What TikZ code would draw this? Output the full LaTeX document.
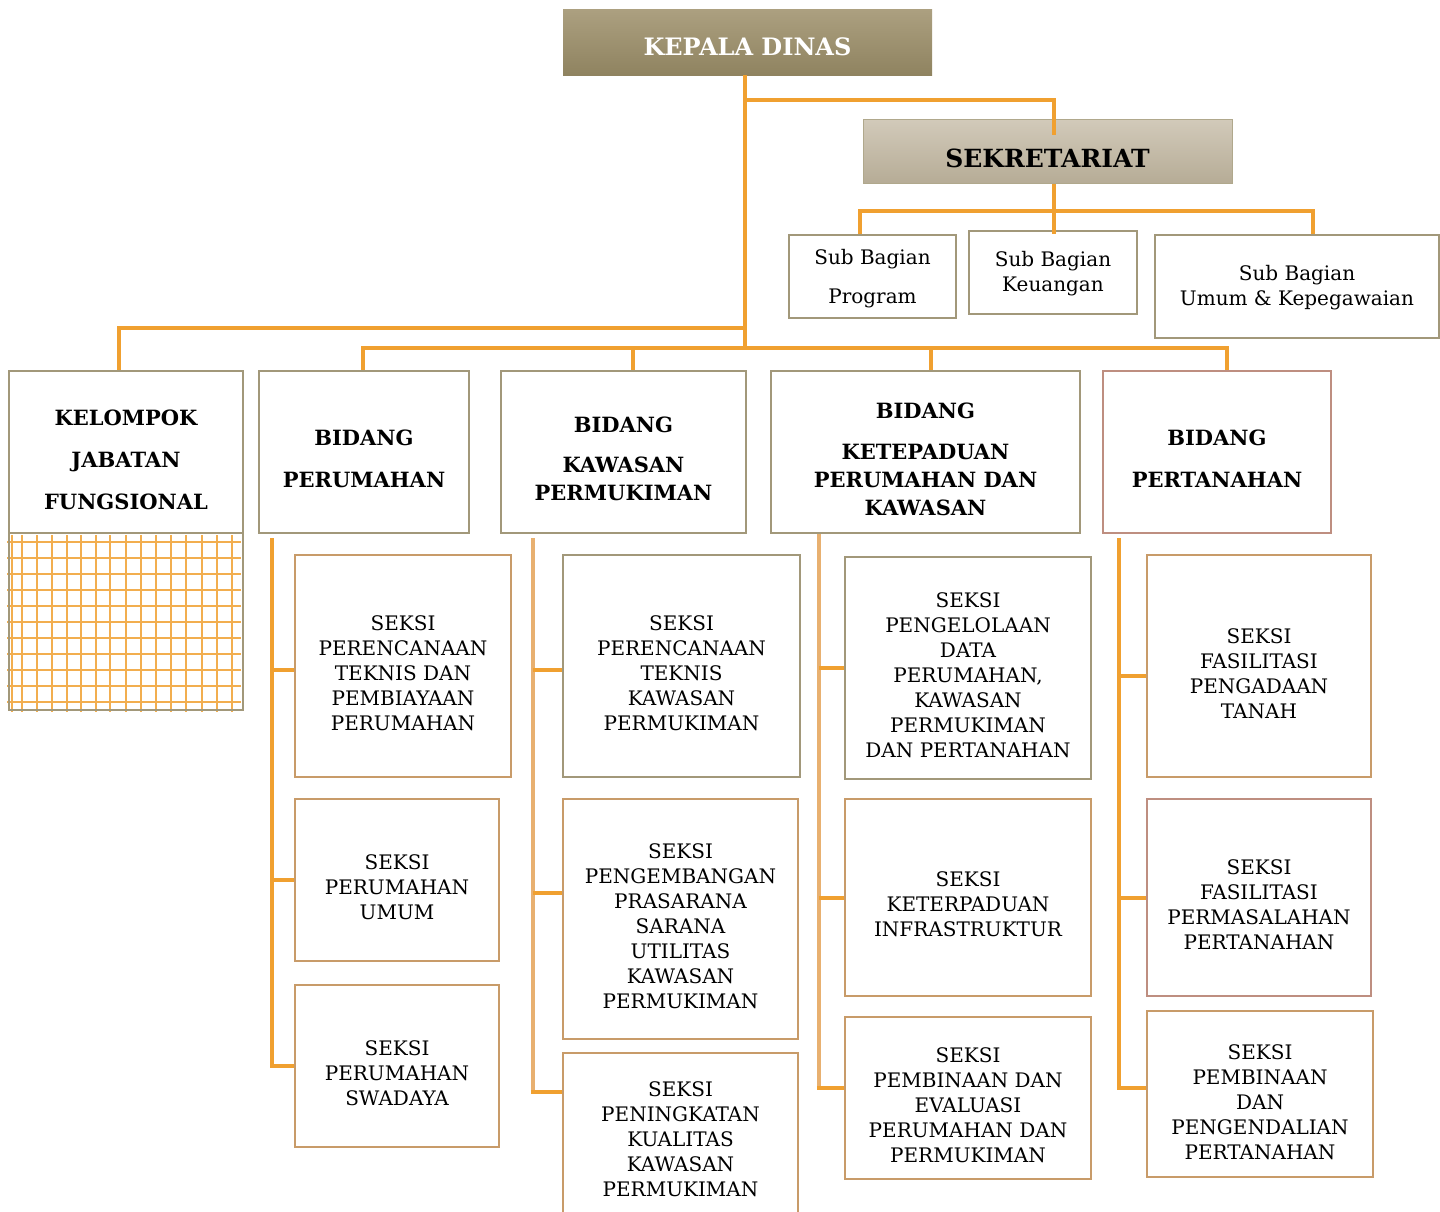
\documentclass[tikz,border=0pt]{standalone}
\usepackage{fontspec}
\setmainfont{DejaVu Serif}
\usetikzlibrary{calc}
\definecolor{orng}{RGB}{240,160,48}
\definecolor{lorng}{RGB}{232,176,112}
\definecolor{bgray}{RGB}{162,152,122}
\definecolor{btan}{RGB}{200,155,105}
\definecolor{bpink}{RGB}{190,142,128}
\definecolor{kdtop}{RGB}{172,160,128}
\definecolor{kdbot}{RGB}{143,131,96}
\definecolor{sektop}{RGB}{210,202,186}
\definecolor{sekbot}{RGB}{182,172,150}
\definecolor{sekline}{RGB}{176,168,140}
\newcommand{\orgbx}[6]{\node[#2, minimum width={#5-#3}, minimum height={#6-#4}] (#1) at ({(#3+#5)/2},{(#4+#6)/2}) {};}
\tikzset{
  orgframe/.style={draw=#1, line width=2.5pt, fill=white, inner sep=0pt},
  conn/.style={draw=orng, line width=4pt},
  lconn/.style={draw=lorng, line width=4pt},
  gridln/.style={draw=orng!85, line width=1.5pt},
  stxt/.style={align=center, font=\fontsize{20}{25}\selectfont, inner sep=0pt},
  btxt/.style={align=center, font=\bfseries\fontsize{21}{28}\selectfont, inner sep=0pt},
  subtxt/.style={align=center, font=\fontsize{20}{25}\selectfont, inner sep=0pt},
}
\begin{document}
\begin{tikzpicture}[x=1pt,y=-1pt]
\useasboundingbox (0,0) rectangle (1440,1211);
% top
\node[draw=none, top color=kdtop, bottom color=kdbot, minimum width=369, minimum height=66, inner sep=0pt] (kd) at (747.5,42) {};
\node[font=\bfseries\fontsize{24}{28}\selectfont, text=white, inner sep=0pt] (kdt) at ($(kd)+(0,5)$) {KEPALA DINAS};
\node[draw=sekline, line width=1pt, top color=sektop, bottom color=sekbot, minimum width=369, minimum height=64, inner sep=0pt] (sek) at (1047.5,151) {};
\node[font=\bfseries\fontsize{25}{29}\selectfont, inner sep=0pt] (sekt) at ($(sek)+(0,7)$) {SEKRETARIAT};
% sub bagian
\orgbx{sbp}{orgframe=bgray}{789}{235}{956}{318}
\orgbx{keu}{orgframe=bgray}{969}{231}{1137}{314}
\orgbx{sbu}{orgframe=bgray}{1155}{235}{1439}{338}
\node[subtxt] (sbpt) at ($(sbp)+(0,2)$) {Sub Bagian\\[14pt]Program};
\node[subtxt] (keut) at ($(keu)+(0,1)$) {Sub Bagian\\Keuangan};
\node[subtxt] (sbut) at ($(sbu)+(0,1)$) {Sub Bagian\\Umum \& Kepegawaian};
% bidang
\orgbx{kjf}{orgframe=bgray}{9}{371}{243}{533}
\orgbx{bp}{orgframe=bgray}{259}{371}{469}{533}
\orgbx{bk}{orgframe=bgray}{501}{371}{746}{533}
\orgbx{bkt}{orgframe=bgray}{771}{371}{1080}{533}
\orgbx{bpt}{orgframe=bpink}{1103}{371}{1331}{533}
\node[btxt] (kjft) at ($(kjf)+(0,7.5)$) {KELOMPOK\\[14pt]JABATAN\\[14pt]FUNGSIONAL};
\node[btxt] (bpx) at ($(bp)+(0,7)$) {BIDANG\\[14pt]PERUMAHAN};
\node[btxt] (bkx) at ($(bk)+(0,7)$) {BIDANG\\[12pt]KAWASAN\\PERMUKIMAN};
\node[btxt] (bktx) at ($(bkt)+(0,7)$) {BIDANG\\[13pt]KETEPADUAN\\PERUMAHAN DAN\\KAWASAN};
\node[btxt] (bptx) at ($(bpt)+(0,7)$) {BIDANG\\[14pt]PERTANAHAN};
% grid
\foreach \gx in {12,22,37,52,67,81,96,110,126,141,156,171,186,202,217,232}
  \draw[gridln] (\gx,535) -- (\gx,712);
\foreach \gy in {542,558,574,590,606,622,638,654,670,686,702}
  \draw[gridln] (7,\gy) -- (241,\gy);
\node[draw=bgray, line width=2.5pt, minimum width=234, minimum height=177, inner sep=0pt] (kjfg) at (126,621.5) {};
% seksi boxes
\orgbx{c1a}{orgframe=btan}{295}{555}{511}{777}
\orgbx{c1b}{orgframe=btan}{295}{799}{499}{961}
\orgbx{c1c}{orgframe=btan}{295}{985}{499}{1147}
\orgbx{c2a}{orgframe=bgray}{563}{555}{800}{777}
\orgbx{c2b}{orgframe=btan}{563}{799}{798}{1039}
\orgbx{c2c}{orgframe=btan}{563}{1053}{798}{1240}
\orgbx{c3a}{orgframe=bgray}{845}{557}{1091}{779}
\orgbx{c3b}{orgframe=btan}{845}{799}{1091}{996}
\orgbx{c3c}{orgframe=btan}{845}{1017}{1091}{1179}
\orgbx{c4a}{orgframe=btan}{1147}{555}{1371}{777}
\orgbx{c4b}{orgframe=bpink}{1147}{799}{1371}{996}
\orgbx{c4c}{orgframe=btan}{1147}{1011}{1373}{1177}
\node[stxt] (c1at) at ($(c1a)+(0,7)$) {SEKSI\\PERENCANAAN\\TEKNIS DAN\\PEMBIAYAAN\\PERUMAHAN};
\node[stxt] (c1bt) at ($(c1b)+(0,7)$) {SEKSI\\PERUMAHAN\\UMUM};
\node[stxt] (c1ct) at ($(c1c)+(0,7)$) {SEKSI\\PERUMAHAN\\SWADAYA};
\node[stxt] (c2at) at ($(c2a)+(0,7)$) {SEKSI\\PERENCANAAN\\TEKNIS\\KAWASAN\\PERMUKIMAN};
\node[stxt] (c2bt) at ($(c2b)+(0,7.5)$) {SEKSI\\PENGEMBANGAN\\PRASARANA\\SARANA\\UTILITAS\\KAWASAN\\PERMUKIMAN};
\node[stxt] (c2ct) at ($(c2c.north)+(0,87.5)$) {SEKSI\\PENINGKATAN\\KUALITAS\\KAWASAN\\PERMUKIMAN};
\node[stxt] (c3at) at ($(c3a)+(0,7)$) {SEKSI\\PENGELOLAAN\\DATA\\PERUMAHAN,\\KAWASAN\\PERMUKIMAN\\DAN PERTANAHAN};
\node[stxt] (c3bt) at ($(c3b)+(0,7)$) {SEKSI\\KETERPADUAN\\INFRASTRUKTUR};
\node[stxt] (c3ct) at ($(c3c)+(0,7.5)$) {SEKSI\\PEMBINAAN DAN\\EVALUASI\\PERUMAHAN DAN\\PERMUKIMAN};
\node[stxt] (c4at) at ($(c4a)+(0,7.5)$) {SEKSI\\FASILITASI\\PENGADAAN\\TANAH};
\node[stxt] (c4bt) at ($(c4b)+(0,7.5)$) {SEKSI\\FASILITASI\\PERMASALAHAN\\PERTANAHAN};
\node[stxt] (c4ct) at ($(c4c)+(0,8)$) {SEKSI\\PEMBINAAN\\DAN\\PENGENDALIAN\\PERTANAHAN};
% trunk connectors
\coordinate (t1) at (745,100);
\coordinate (t2) at (745,328);
\coordinate (t3) at (745,349);
\draw[conn] ($(kd.south)+(-2.5,0)$) -- (t3);
\draw[conn] (t1) -| ($(sek.north)+(6.5,16)$);
\draw[conn] ($(sek.south)+(6.5,0)$) -- ($(keu.north)+(1,4)$);
\draw[conn] ($(sbp.north)+(-12.5,0)$) -- ++(0,-23) -| ($(sbu.north)+(16,0)$);
\draw[conn] (t2) -| ($(kjf.north)+(-7,0)$);
\draw[conn] ($(bp.north)+(-1,0)$) -- ++(0,-22) -| ($(bpt.north)+(10,0)$);
\draw[conn] ($(bk.north)+(9.5,0)$) -- ++(0,-22);
\draw[conn] ($(bkt.north)+(5.5,0)$) -- ++(0,-22);
% column 1
\coordinate (v1) at ($(bp.south west)+(14,4)$);
\path ($(c1a.north west)+(0,116)$) coordinate (b1a);
\draw[conn] (v1) |- (c1c.west);
\draw[conn] (v1 |- b1a) -- (b1a);
\draw[conn] (v1 |- c1b.west) -- (c1b.west);
% column 2
\coordinate (v2) at ($(bk.south west)+(33,4)$);
\path ($(c2a.north west)+(0,116)$) coordinate (b2a);
\path ($(c2b.north west)+(0,95)$) coordinate (b2b);
\path ($(c2c.north west)+(0,40)$) coordinate (b2c);
\draw[lconn] (v2) -- ($(v2 |- b2c)+(0,2)$);
\draw[conn] (v2 |- b2a) -- (b2a);
\draw[conn] (v2 |- b2b) -- (b2b);
\draw[conn] ($(v2 |- b2c)+(-2,0)$) -- (b2c);
% column 3
\coordinate (v3) at ($(bkt.south west)+(49,0)$);
\path ($(c3c.north west)+(0,72)$) coordinate (b3c);
\draw[lconn] (v3) -- ($(v3 |- b3c)+(0,2)$);
\draw[conn] (v3 |- c3a.west) -- (c3a.west);
\draw[conn] (v3 |- c3b.west) -- (c3b.west);
\draw[conn] ($(v3 |- b3c)+(-2,0)$) -- (b3c);
% column 4
\coordinate (v4) at ($(bpt.south west)+(17,4)$);
\path ($(c4a.north west)+(0,122)$) coordinate (b4a);
\path ($(c4c.north west)+(0,78)$) coordinate (b4c);
\draw[conn] (v4) |- (b4c);
\draw[conn] (v4 |- b4a) -- (b4a);
\draw[conn] (v4 |- c4b.west) -- (c4b.west);
\end{tikzpicture}
\end{document}
